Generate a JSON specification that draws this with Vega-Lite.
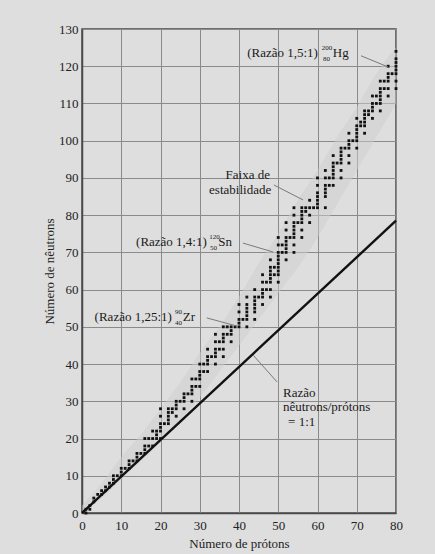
{
  "$schema": "https://vega.github.io/schema/vega-lite/v6.json",
  "width": 314,
  "height": 484,
  "autosize": {"type": "none"},
  "padding": {"left": 82, "top": 29, "right": 39, "bottom": 41},
  "background": "#dedede",
  "config": {
    "font": "Liberation Serif",
    "view": {"stroke": "#4a4a4a", "strokeWidth": 1.5},
    "axis": {
      "grid": true,
      "gridColor": "#8a8a8a",
      "gridWidth": 1,
      "ticks": false,
      "domainColor": "#4a4a4a",
      "domainWidth": 1.5,
      "labelFont": "Liberation Serif",
      "labelFontSize": 13,
      "labelColor": "#222222",
      "labelFlush": false,
      "labelOverlap": false,
      "titleFont": "Liberation Serif",
      "titleFontSize": 13,
      "titleFontWeight": "normal",
      "titleColor": "#222222"
    }
  },
  "datasets": {
    "band": [
      {"Z": 0, "lo": 0, "hi": 2},
      {"Z": 5, "lo": 4, "hi": 8},
      {"Z": 10, "lo": 9, "hi": 15},
      {"Z": 15, "lo": 14, "hi": 21},
      {"Z": 20, "lo": 19, "hi": 28},
      {"Z": 25, "lo": 25, "hi": 35},
      {"Z": 30, "lo": 31, "hi": 43},
      {"Z": 35, "lo": 38, "hi": 50},
      {"Z": 40, "lo": 45, "hi": 58},
      {"Z": 45, "lo": 52, "hi": 67},
      {"Z": 50, "lo": 59, "hi": 75},
      {"Z": 55, "lo": 66, "hi": 84},
      {"Z": 60, "lo": 74, "hi": 92},
      {"Z": 65, "lo": 83, "hi": 101},
      {"Z": 70, "lo": 92, "hi": 109},
      {"Z": 75, "lo": 101, "hi": 118},
      {"Z": 80, "lo": 110, "hi": 125}
    ],
    "ratio": [
      {"Z": 0, "N": 0},
      {"Z": 80, "N": 78.5}
    ],
    "nuclides": [
      {"Z":1,"N":0},{"Z":1,"N":1},
      {"Z":2,"N":1},{"Z":2,"N":2},
      {"Z":3,"N":3},{"Z":3,"N":4},
      {"Z":4,"N":5},
      {"Z":5,"N":5},{"Z":5,"N":6},
      {"Z":6,"N":6},{"Z":6,"N":7},
      {"Z":7,"N":7},{"Z":7,"N":8},
      {"Z":8,"N":8},{"Z":8,"N":9},{"Z":8,"N":10},
      {"Z":9,"N":10},
      {"Z":10,"N":10},{"Z":10,"N":11},{"Z":10,"N":12},
      {"Z":11,"N":12},
      {"Z":12,"N":12},{"Z":12,"N":13},{"Z":12,"N":14},
      {"Z":13,"N":14},
      {"Z":14,"N":14},{"Z":14,"N":15},{"Z":14,"N":16},
      {"Z":15,"N":16},
      {"Z":16,"N":16},{"Z":16,"N":17},{"Z":16,"N":18},{"Z":16,"N":20},
      {"Z":17,"N":18},{"Z":17,"N":20},
      {"Z":18,"N":18},{"Z":18,"N":20},{"Z":18,"N":22},
      {"Z":19,"N":20},{"Z":19,"N":21},{"Z":19,"N":22},
      {"Z":20,"N":20},{"Z":20,"N":22},{"Z":20,"N":23},{"Z":20,"N":24},{"Z":20,"N":26},{"Z":20,"N":28},
      {"Z":21,"N":24},
      {"Z":22,"N":24},{"Z":22,"N":25},{"Z":22,"N":26},{"Z":22,"N":27},{"Z":22,"N":28},
      {"Z":23,"N":27},{"Z":23,"N":28},
      {"Z":24,"N":26},{"Z":24,"N":28},{"Z":24,"N":29},{"Z":24,"N":30},
      {"Z":25,"N":30},
      {"Z":26,"N":28},{"Z":26,"N":30},{"Z":26,"N":31},{"Z":26,"N":32},
      {"Z":27,"N":32},
      {"Z":28,"N":30},{"Z":28,"N":32},{"Z":28,"N":33},{"Z":28,"N":34},{"Z":28,"N":36},
      {"Z":29,"N":34},{"Z":29,"N":36},
      {"Z":30,"N":34},{"Z":30,"N":36},{"Z":30,"N":37},{"Z":30,"N":38},{"Z":30,"N":40},
      {"Z":31,"N":38},{"Z":31,"N":40},
      {"Z":32,"N":38},{"Z":32,"N":40},{"Z":32,"N":41},{"Z":32,"N":42},{"Z":32,"N":44},
      {"Z":33,"N":42},
      {"Z":34,"N":40},{"Z":34,"N":42},{"Z":34,"N":43},{"Z":34,"N":44},{"Z":34,"N":46},{"Z":34,"N":48},
      {"Z":35,"N":44},{"Z":35,"N":46},
      {"Z":36,"N":42},{"Z":36,"N":44},{"Z":36,"N":46},{"Z":36,"N":47},{"Z":36,"N":48},{"Z":36,"N":50},
      {"Z":37,"N":48},{"Z":37,"N":50},
      {"Z":38,"N":46},{"Z":38,"N":48},{"Z":38,"N":49},{"Z":38,"N":50},
      {"Z":39,"N":50},
      {"Z":40,"N":50},{"Z":40,"N":51},{"Z":40,"N":52},{"Z":40,"N":54},{"Z":40,"N":56},
      {"Z":41,"N":52},
      {"Z":42,"N":50},{"Z":42,"N":52},{"Z":42,"N":53},{"Z":42,"N":54},{"Z":42,"N":55},{"Z":42,"N":56},{"Z":42,"N":58},
      {"Z":44,"N":52},{"Z":44,"N":54},{"Z":44,"N":55},{"Z":44,"N":56},{"Z":44,"N":57},{"Z":44,"N":58},{"Z":44,"N":60},
      {"Z":45,"N":58},
      {"Z":46,"N":56},{"Z":46,"N":58},{"Z":46,"N":59},{"Z":46,"N":60},{"Z":46,"N":62},{"Z":46,"N":64},
      {"Z":47,"N":60},{"Z":47,"N":62},
      {"Z":48,"N":58},{"Z":48,"N":60},{"Z":48,"N":62},{"Z":48,"N":63},{"Z":48,"N":64},{"Z":48,"N":65},{"Z":48,"N":66},{"Z":48,"N":68},
      {"Z":49,"N":64},{"Z":49,"N":66},
      {"Z":50,"N":62},{"Z":50,"N":64},{"Z":50,"N":65},{"Z":50,"N":66},{"Z":50,"N":67},{"Z":50,"N":68},{"Z":50,"N":69},{"Z":50,"N":70},{"Z":50,"N":72},{"Z":50,"N":74},
      {"Z":51,"N":70},{"Z":51,"N":72},
      {"Z":52,"N":68},{"Z":52,"N":70},{"Z":52,"N":71},{"Z":52,"N":72},{"Z":52,"N":73},{"Z":52,"N":74},{"Z":52,"N":76},{"Z":52,"N":78},
      {"Z":53,"N":74},
      {"Z":54,"N":70},{"Z":54,"N":72},{"Z":54,"N":74},{"Z":54,"N":75},{"Z":54,"N":76},{"Z":54,"N":77},{"Z":54,"N":78},{"Z":54,"N":80},{"Z":54,"N":82},
      {"Z":55,"N":78},
      {"Z":56,"N":74},{"Z":56,"N":76},{"Z":56,"N":78},{"Z":56,"N":79},{"Z":56,"N":80},{"Z":56,"N":81},{"Z":56,"N":82},
      {"Z":57,"N":81},{"Z":57,"N":82},
      {"Z":58,"N":78},{"Z":58,"N":80},{"Z":58,"N":82},{"Z":58,"N":84},
      {"Z":59,"N":82},
      {"Z":60,"N":82},{"Z":60,"N":83},{"Z":60,"N":84},{"Z":60,"N":85},{"Z":60,"N":86},{"Z":60,"N":88},{"Z":60,"N":90},
      {"Z":62,"N":82},{"Z":62,"N":85},{"Z":62,"N":86},{"Z":62,"N":87},{"Z":62,"N":88},{"Z":62,"N":90},{"Z":62,"N":92},
      {"Z":63,"N":88},{"Z":63,"N":90},
      {"Z":64,"N":88},{"Z":64,"N":90},{"Z":64,"N":91},{"Z":64,"N":92},{"Z":64,"N":93},{"Z":64,"N":94},{"Z":64,"N":96},
      {"Z":65,"N":94},
      {"Z":66,"N":90},{"Z":66,"N":92},{"Z":66,"N":94},{"Z":66,"N":95},{"Z":66,"N":96},{"Z":66,"N":97},{"Z":66,"N":98},
      {"Z":67,"N":98},
      {"Z":68,"N":94},{"Z":68,"N":96},{"Z":68,"N":98},{"Z":68,"N":99},{"Z":68,"N":100},{"Z":68,"N":102},
      {"Z":69,"N":100},
      {"Z":70,"N":98},{"Z":70,"N":100},{"Z":70,"N":101},{"Z":70,"N":102},{"Z":70,"N":103},{"Z":70,"N":104},{"Z":70,"N":106},
      {"Z":71,"N":104},{"Z":71,"N":105},
      {"Z":72,"N":102},{"Z":72,"N":104},{"Z":72,"N":105},{"Z":72,"N":106},{"Z":72,"N":107},{"Z":72,"N":108},
      {"Z":73,"N":107},{"Z":73,"N":108},
      {"Z":74,"N":106},{"Z":74,"N":108},{"Z":74,"N":109},{"Z":74,"N":110},{"Z":74,"N":112},
      {"Z":75,"N":110},{"Z":75,"N":112},
      {"Z":76,"N":108},{"Z":76,"N":110},{"Z":76,"N":111},{"Z":76,"N":112},{"Z":76,"N":113},{"Z":76,"N":114},{"Z":76,"N":116},
      {"Z":77,"N":114},{"Z":77,"N":116},
      {"Z":78,"N":112},{"Z":78,"N":114},{"Z":78,"N":116},{"Z":78,"N":117},{"Z":78,"N":118},{"Z":78,"N":120},
      {"Z":79,"N":118},
      {"Z":80,"N":114},{"Z":80,"N":116},{"Z":80,"N":118},{"Z":80,"N":119},{"Z":80,"N":120},{"Z":80,"N":121},{"Z":80,"N":122},{"Z":80,"N":124}
    ],
    "leaders": [
      {"x": 71.1, "y": 122.8, "x2": 78.0, "y2": 119.8},
      {"x": 48.9, "y": 88.1, "x2": 56.3, "y2": 84.1},
      {"x": 41.0, "y": 72.5, "x2": 48.7, "y2": 70.1},
      {"x": 31.8, "y": 52.4, "x2": 39.5, "y2": 50.2},
      {"x": 43.6, "y": 42.4, "x2": 49.7, "y2": 35.2}
    ],
    "notesRight": [
      {"x": 60.1, "y": 123.6, "label": "(Razão 1,5:1)"},
      {"x": 47.9, "y": 90.8, "label": "Faixa de"},
      {"x": 48.2, "y": 86.8, "label": "estabilidade"},
      {"x": 31.8, "y": 72.8, "label": "(Razão 1,4:1)"},
      {"x": 22.9, "y": 52.6, "label": "(Razão 1,25:1)"}
    ],
    "notesLeft": [
      {"x": 63.9, "y": 123.6, "label": "Hg"},
      {"x": 34.7, "y": 72.8, "label": "Sn"},
      {"x": 25.7, "y": 52.6, "label": "Zr"},
      {"x": 51.2, "y": 32.2, "label": "Razão"},
      {"x": 51.2, "y": 28.5, "label": "nêutrons/prótons"},
      {"x": 52.5, "y": 24.4, "label": "= 1:1"}
    ],
    "isotopes": [
      {"x": 61.1, "y": 125.0, "label": "200"},
      {"x": 61.4, "y": 121.9, "label": "80"},
      {"x": 32.4, "y": 74.2, "label": "120"},
      {"x": 32.6, "y": 71.2, "label": "50"},
      {"x": 23.7, "y": 54.1, "label": "90"},
      {"x": 23.7, "y": 51.1, "label": "40"}
    ]
  },
  "layer": [
    {
      "data": {"name": "band"},
      "mark": {"type": "area", "color": "#cecece", "opacity": 0.5, "interpolate": "monotone"},
      "encoding": {
        "x": {"field": "Z", "type": "quantitative", "scale": {"domain": [0, 80], "nice": false},
          "axis": {"title": "Número de prótons", "values": [0,10,20,30,40,50,60,70,80], "labelPadding": 6, "titlePadding": 5}},
        "y": {"field": "lo", "type": "quantitative", "scale": {"domain": [0, 130], "nice": false},
          "axis": {"title": "Número de nêutrons", "values": [0,10,20,30,40,50,60,70,80,90,100,110,120,130], "labelPadding": 4, "titlePadding": 2}},
        "y2": {"field": "hi"}
      }
    },
    {
      "data": {"name": "ratio"},
      "mark": {"type": "line", "color": "#111111", "strokeWidth": 2.4},
      "encoding": {
        "x": {"field": "Z", "type": "quantitative", "axis": {"title": "Número de prótons", "values": [0,10,20,30,40,50,60,70,80], "labelPadding": 6, "titlePadding": 5}},
        "y": {"field": "N", "type": "quantitative", "axis": {"title": "Número de nêutrons", "values": [0,10,20,30,40,50,60,70,80,90,100,110,120,130], "labelPadding": 4, "titlePadding": 2}}
      }
    },
    {
      "data": {"name": "nuclides"},
      "mark": {"type": "point", "shape": "square", "filled": true, "size": 8, "color": "#111111", "opacity": 1},
      "encoding": {
        "x": {"field": "Z", "type": "quantitative", "axis": {"title": "Número de prótons", "values": [0,10,20,30,40,50,60,70,80], "labelPadding": 6, "titlePadding": 5}},
        "y": {"field": "N", "type": "quantitative", "axis": {"title": "Número de nêutrons", "values": [0,10,20,30,40,50,60,70,80,90,100,110,120,130], "labelPadding": 4, "titlePadding": 2}}
      }
    },
    {
      "data": {"name": "leaders"},
      "mark": {"type": "rule", "color": "#7a7a7a", "strokeWidth": 1},
      "encoding": {
        "x": {"field": "x", "type": "quantitative", "axis": {"title": "Número de prótons", "values": [0,10,20,30,40,50,60,70,80], "labelPadding": 6, "titlePadding": 5}},
        "y": {"field": "y", "type": "quantitative", "axis": {"title": "Número de nêutrons", "values": [0,10,20,30,40,50,60,70,80,90,100,110,120,130], "labelPadding": 4, "titlePadding": 2}},
        "x2": {"field": "x2"},
        "y2": {"field": "y2"}
      }
    },
    {
      "data": {"name": "notesRight"},
      "mark": {"type": "text", "align": "right", "baseline": "middle", "font": "Liberation Serif", "fontSize": 13, "color": "#1a1a1a"},
      "encoding": {
        "x": {"field": "x", "type": "quantitative", "axis": {"title": "Número de prótons", "values": [0,10,20,30,40,50,60,70,80], "labelPadding": 6, "titlePadding": 5}},
        "y": {"field": "y", "type": "quantitative", "axis": {"title": "Número de nêutrons", "values": [0,10,20,30,40,50,60,70,80,90,100,110,120,130], "labelPadding": 4, "titlePadding": 2}},
        "text": {"field": "label"}
      }
    },
    {
      "data": {"name": "notesLeft"},
      "mark": {"type": "text", "align": "left", "baseline": "middle", "font": "Liberation Serif", "fontSize": 13, "color": "#1a1a1a"},
      "encoding": {
        "x": {"field": "x", "type": "quantitative", "axis": {"title": "Número de prótons", "values": [0,10,20,30,40,50,60,70,80], "labelPadding": 6, "titlePadding": 5}},
        "y": {"field": "y", "type": "quantitative", "axis": {"title": "Número de nêutrons", "values": [0,10,20,30,40,50,60,70,80,90,100,110,120,130], "labelPadding": 4, "titlePadding": 2}},
        "text": {"field": "label"}
      }
    },
    {
      "data": {"name": "isotopes"},
      "mark": {"type": "text", "align": "left", "baseline": "middle", "font": "Liberation Serif", "fontSize": 7, "color": "#1a1a1a"},
      "encoding": {
        "x": {"field": "x", "type": "quantitative", "axis": {"title": "Número de prótons", "values": [0,10,20,30,40,50,60,70,80], "labelPadding": 6, "titlePadding": 5}},
        "y": {"field": "y", "type": "quantitative", "axis": {"title": "Número de nêutrons", "values": [0,10,20,30,40,50,60,70,80,90,100,110,120,130], "labelPadding": 4, "titlePadding": 2}},
        "text": {"field": "label"}
      }
    }
  ]
}
